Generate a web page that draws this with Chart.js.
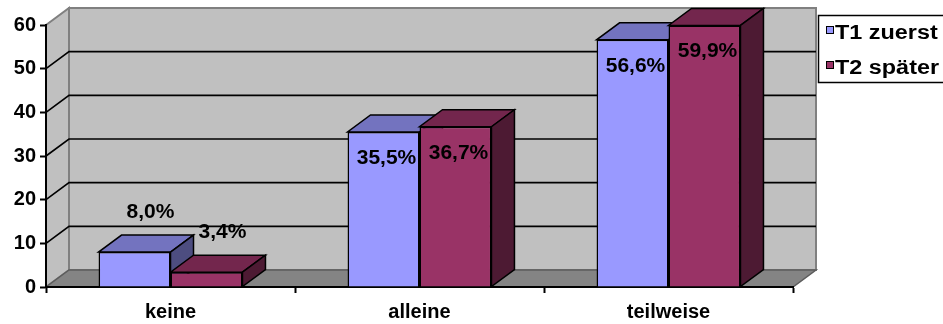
<!DOCTYPE html>
<html>
<head>
<meta charset="utf-8">
<script src="https://cdn.jsdelivr.net/npm/chart.js@4/dist/chart.umd.min.js"></script>
<style>
  html, body { margin: 0; padding: 0; background: #ffffff; }
  #wrap { width: 943px; height: 324px; }
</style>
</head>
<body>
<div id="wrap"><canvas id="c" width="943" height="324"></canvas></div>
<script>
// Data
const categories = ['keine', 'alleine', 'teilweise'];
const seriesNames = ['T1 zuerst', 'T2 später'];
const t1Values = [8.0, 35.5, 56.6];
const t2Values = [3.4, 36.7, 59.9];
const yTicks = [0, 10, 20, 30, 40, 50, 60];

// Styling
const FONT = '"Liberation Sans", Arial, sans-serif';
const frontColors = ['#9999FF', '#993366'];
const DX = 23, DY = -17;           // oblique depth offset of the 3D box

function shade(hex, f) {
  const n = parseInt(hex.slice(1), 16);
  const r = Math.round(((n >> 16) & 255) * f);
  const g = Math.round(((n >> 8) & 255) * f);
  const b = Math.round((n & 255) * f);
  return `rgb(${r},${g},${b})`;
}

function poly(ctx, pts, fill, stroke, lw) {
  ctx.beginPath();
  ctx.moveTo(pts[0][0], pts[0][1]);
  for (let i = 1; i < pts.length; i++) ctx.lineTo(pts[i][0], pts[i][1]);
  ctx.closePath();
  if (fill) { ctx.fillStyle = fill; ctx.fill(); }
  if (stroke) { ctx.strokeStyle = stroke; ctx.lineWidth = lw; ctx.stroke(); }
}

const fmt = v => v.toFixed(1).replace('.', ',') + '%';

// Walls, floor and back gridlines
const walls3D = {
  id: 'walls3D',
  beforeDraw(chart) {
    const { ctx, chartArea: a, scales: { y } } = chart;
    ctx.save();
    ctx.lineJoin = 'miter';
    // back wall
    poly(ctx, [[a.left + DX, a.top + DY], [a.right + DX, a.top + DY],
               [a.right + DX, a.bottom + DY], [a.left + DX, a.bottom + DY]],
         '#C0C0C0', '#808080', 2);
    // side wall
    poly(ctx, [[a.left, a.top], [a.left + DX, a.top + DY],
               [a.left + DX, a.bottom + DY], [a.left, a.bottom]],
         '#C0C0C0', '#808080', 2);
    // gridlines
    ctx.strokeStyle = '#000';
    ctx.lineWidth = 1.6;
    yTicks.forEach(v => {
      if (v <= y.min || v >= y.max) return;
      const yy = y.getPixelForValue(v);
      ctx.beginPath();
      ctx.moveTo(a.left, yy);
      ctx.lineTo(a.left + DX, yy + DY);
      ctx.lineTo(a.right + DX, yy + DY);
      ctx.stroke();
    });
    // floor
    poly(ctx, [[a.left, a.bottom], [a.right, a.bottom],
               [a.right + DX, a.bottom + DY], [a.left + DX, a.bottom + DY]],
         '#848484', '#5c5c5c', 1.5);
    ctx.restore();
  },
  // tops and right-hand sides of the columns
  beforeDatasetsDraw(chart) {
    const { ctx } = chart;
    ctx.save();
    ctx.lineJoin = 'miter';
    chart.data.datasets.forEach((ds, di) => {
      const meta = chart.getDatasetMeta(di);
      const base = frontColors[di];
      meta.data.forEach(el => {
        const l = el.x - el.width / 2, r = el.x + el.width / 2;
        const t = el.y, b = el.base;
        poly(ctx, [[l, t], [r, t], [r + DX, t + DY], [l + DX, t + DY]],
             shade(base, 0.75), '#000', 1.5);
        poly(ctx, [[r, t], [r + DX, t + DY], [r + DX, b + DY], [r, b]],
             shade(base, 0.5), '#000', 1.5);
      });
    });
    ctx.restore();
  },
  // value labels
  afterDatasetsDraw(chart) {
    const { ctx } = chart;
    ctx.save();
    ctx.font = `bold 21px ${FONT}`;
    ctx.fillStyle = '#000';
    ctx.textAlign = 'center';
    ctx.textBaseline = 'middle';
    chart.data.datasets.forEach((ds, di) => {
      const meta = chart.getDatasetMeta(di);
      meta.data.forEach((el, i) => {
        const v = ds.data[i];
        const above = v < 10;
        const cx = el.x + (above ? 16 : 3);
        const cy = el.y + (above ? -40 : 26);
        ctx.fillText(fmt(v), cx, cy);
      });
    });
    ctx.restore();
  },
  // legend box
  afterDraw(chart) {
    const { ctx } = chart;
    ctx.save();
    poly(ctx, [[818.5, 15.5], [960, 15.5], [960, 82.5], [818.5, 82.5]], '#fff', '#000', 1.5);
    const rows = [39, 74];
    seriesNames.forEach((name, i) => {
      const base = rows[i];
      ctx.fillStyle = frontColors[i];
      ctx.fillRect(826.5, base - 12.5, 7, 7);
      ctx.strokeStyle = '#000';
      ctx.lineWidth = 1;
      ctx.strokeRect(826.5, base - 12.5, 7, 7);
      ctx.save();
      ctx.translate(835, base);
      ctx.scale(1.17, 1);
      ctx.font = `bold 20px ${FONT}`;
      ctx.fillStyle = '#000';
      ctx.textAlign = 'left';
      ctx.textBaseline = 'alphabetic';
      ctx.fillText(name, 0, 0);
      ctx.restore();
    });
    ctx.restore();
  }
};

const tickFont = { family: FONT, size: 20, weight: 'bold' };

new Chart(document.getElementById('c'), {
  type: 'bar',
  data: {
    labels: categories,
    datasets: [
      { label: seriesNames[0], data: t1Values, backgroundColor: frontColors[0],
        borderColor: '#000', borderWidth: 1.5, categoryPercentage: 0.578, barPercentage: 1 },
      { label: seriesNames[1], data: t2Values, backgroundColor: frontColors[1],
        borderColor: '#000', borderWidth: 1.5, categoryPercentage: 0.578, barPercentage: 1 }
    ]
  },
  options: {
    responsive: false,
    animation: false,
    devicePixelRatio: 1,
    layout: { padding: { top: 25, right: 150, left: 0, bottom: 0 } },
    plugins: { legend: { display: false }, tooltip: { enabled: false } },
    scales: {
      x: {
        offset: true,
        grid: { display: true, drawOnChartArea: false, drawTicks: true, tickLength: 6,
                tickColor: '#000', tickWidth: 2, offset: true },
        border: { display: true, color: '#000', width: 2 },
        ticks: { font: tickFont, color: '#000', padding: 7, maxRotation: 0 },
        afterFit: s => { s.height = 37; }
      },
      y: {
        min: 0, max: 60,
        afterBuildTicks: s => { s.ticks = yTicks.map(v => ({ value: v })); },
        grid: { display: true, drawOnChartArea: false, drawTicks: true, tickLength: 6,
                tickColor: '#000', tickWidth: 2 },
        border: { display: true, color: '#000', width: 2 },
        ticks: { font: tickFont, color: '#000', padding: 4 },
        afterFit: s => { s.width = 46; }
      }
    }
  },
  plugins: [walls3D]
});
</script>
</body>
</html>
